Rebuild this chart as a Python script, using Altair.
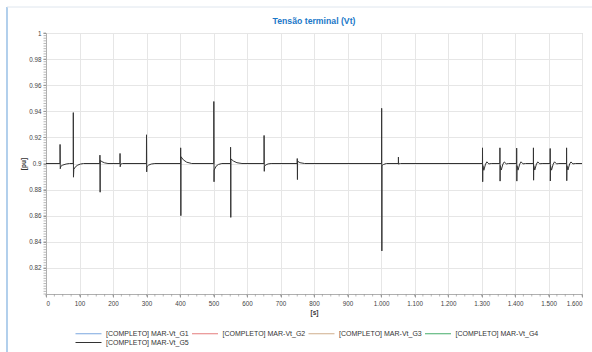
import altair as alt
import pandas as pd

# ---- data ----
series_names = ["[COMPLETO] MAR-Vt_G1", "[COMPLETO] MAR-Vt_G2", "[COMPLETO] MAR-Vt_G3",
                "[COMPLETO] MAR-Vt_G4", "[COMPLETO] MAR-Vt_G5"]
series_colors = ["#7ba7df", "#e47c7c", "#cfae8c", "#45ad6a", "#333333"]

g5_time = [0,
    41.8, 42, 42.6, 44, 50, 60, 70,
    81.3, 81.5, 82, 83, 88, 95, 103, 112,
    160.8, 161, 161.6, 162, 167, 175, 185,
    220.8, 221, 221.5, 223, 228,
    299.8, 300, 300.6, 301, 306, 314, 325,
    401.8, 402, 402.6, 403, 410, 420, 435,
    500.8, 501, 501.6, 502, 508, 515, 525,
    550.8, 551, 551.6, 552, 560, 570, 585,
    650.8, 651, 651.6, 652, 657, 663, 672,
    749.8, 750, 750.6, 751, 758, 772,
    1001.8, 1002, 1002.6, 1003, 1008, 1016,
    1051.8, 1052, 1052.5, 1054, 1058,
    1302.8, 1303, 1303.5, 1304, 1307, 1312, 1316, 1322, 1329,
    1354.8, 1355, 1355.5, 1356, 1359, 1364, 1368, 1374, 1381,
    1404.8, 1405, 1405.5, 1406, 1409, 1414, 1418, 1424, 1431,
    1454.8, 1455, 1455.5, 1456, 1459, 1464, 1468, 1474, 1481,
    1504.8, 1505, 1505.5, 1506, 1509, 1514, 1518, 1524, 1531,
    1553.8, 1554, 1554.5, 1555, 1558, 1563, 1567, 1573, 1580,
    1600]
g5_value = [0.9,
    0.9, 0.9146, 0.896, 0.8978, 0.8988, 0.8996, 0.9,
    0.9, 0.939, 0.8895, 0.8955, 0.8975, 0.8988, 0.8996, 0.9,
    0.9, 0.9064, 0.878, 0.9025, 0.9014, 0.9005, 0.9,
    0.9, 0.9077, 0.8975, 0.8995, 0.9,
    0.9, 0.922, 0.8936, 0.8975, 0.8987, 0.8996, 0.9,
    0.9, 0.912, 0.860, 0.9052, 0.9028, 0.9010, 0.9,
    0.9, 0.9475, 0.886, 0.895, 0.898, 0.8993, 0.9,
    0.9, 0.9125, 0.8587, 0.9035, 0.9018, 0.9006, 0.9,
    0.9, 0.9215, 0.894, 0.898, 0.899, 0.8997, 0.9,
    0.9, 0.9038, 0.8877, 0.9018, 0.9006, 0.9,
    0.9, 0.9423, 0.833, 0.8985, 0.8993, 0.9,
    0.9, 0.9049, 0.8995, 0.8998, 0.9,
    0.9, 0.912, 0.886, 0.8985, 0.8948, 0.8995, 0.9013, 0.8997, 0.9,
    0.9, 0.912, 0.8865, 0.8985, 0.8950, 0.8996, 0.9012, 0.8997, 0.9,
    0.9, 0.9118, 0.8865, 0.8984, 0.8949, 0.8995, 0.9013, 0.8997, 0.9,
    0.9, 0.912, 0.8872, 0.8985, 0.8950, 0.8996, 0.9012, 0.8998, 0.9,
    0.9, 0.9115, 0.8866, 0.8985, 0.8949, 0.8995, 0.9013, 0.8997, 0.9,
    0.9, 0.912, 0.8868, 0.8984, 0.8950, 0.8996, 0.9012, 0.8997, 0.9,
    0.9]

x_ticks = [0, 100, 200, 300, 400, 500, 600, 700, 800, 900, 1000, 1100, 1200, 1300, 1400, 1500, 1600]
y_ticks = [0.82, 0.84, 0.86, 0.88, 0.90, 0.92, 0.94, 0.96, 0.98, 1.0]
x_minor = [v * 25 for v in range(0, 65)]
y_minor = [round(0.8 + 0.002 * k, 3) for k in range(0, 101)]

FONT = "Liberation Sans"
W, H = 536, 261

df = pd.DataFrame({"t": g5_time, "v": g5_value, "series": series_names[4],
                   "i": list(range(len(g5_time)))})

xscale = alt.Scale(domain=[0, 1600], nice=False, zero=False)
yscale = alt.Scale(domain=[0.8, 1.0], nice=False, zero=False)
x_axis = alt.Axis(values=x_ticks, title="[s]", labelOverlap=False,
                  labelExpr="replace(format(datum.value, ','), ',', '.')")
y_axis = alt.Axis(values=y_ticks, format=".2~f", title="[pu]", labelOverlap=False)

line = alt.Chart(df).mark_line(strokeWidth=1, interpolate="linear", color="#111111").encode(
    x=alt.X("t:Q", scale=xscale, axis=x_axis),
    y=alt.Y("v:Q", scale=yscale, axis=y_axis),
    color=alt.Color("series:N",
                    scale=alt.Scale(domain=series_names, range=series_colors),
                    legend=alt.Legend(title=None, orient="none", legendX=29, legendY=296,
                                      direction="horizontal",
                                      columns=4, symbolType="M-1,0H5.5", symbolSize=64,
                                      symbolStrokeWidth=1, symbolOpacity=1,
                                      symbolFillColor="transparent",
                                      labelFont=FONT, labelFontSize=7,
                                      labelColor="#333333", labelOffset=22, columnPadding=0.5,
                                      rowPadding=1, labelLimit=200)),
    order=alt.Order("i:Q"),
)

ymin = alt.Chart(pd.DataFrame({"v": y_minor})).mark_rule(
    color="#9a9a9a", strokeWidth=0.7).encode(
    y=alt.Y("v:Q", scale=yscale, axis=y_axis),
    x=alt.value(-2.5), x2=alt.value(0),
)
xmin = alt.Chart(pd.DataFrame({"t": x_minor})).mark_rule(
    color="#9a9a9a", strokeWidth=0.7).encode(
    x=alt.X("t:Q", scale=xscale, axis=x_axis),
    y=alt.value(H), y2=alt.value(H + 2.5),
)

frame_v = alt.Chart(pd.DataFrame({"k": [0]})).mark_rule(color="#7fb0e0", strokeWidth=1.2).encode(
    x=alt.value(-39), y=alt.value(-26), y2=alt.value(330))
frame_h = alt.Chart(pd.DataFrame({"k": [0]})).mark_rule(color="#dfe6ee", strokeWidth=1).encode(
    x=alt.value(-39), x2=alt.value(560), y=alt.value(-26))

chart = alt.layer(line, ymin, xmin, frame_v, frame_h).properties(
    width=W, height=H,
    title=alt.TitleParams("Tensão terminal (Vt)", font=FONT, fontSize=8.7, fontWeight="bold",
                          color="#1b78c8", anchor="middle", offset=0, dy=19),
    autosize=alt.AutoSizeParams(type="none"),
    padding={"left": 46, "top": 33, "right": 10, "bottom": 58},
).configure_view(stroke="#c8c8c8", strokeWidth=1).configure_axis(
    grid=True, gridColor="#e6e6e6", gridWidth=1,
    domainColor="#b0b0b0", tickColor="#999999", tickSize=3,
    labelFont=FONT, labelFontSize=6.3, labelColor="#444444", labelPadding=2,
    titleFont=FONT, titleFontSize=6.5, titleFontWeight="bold", titleColor="#333333",
).configure_axisY(titlePadding=2).configure_axisX(titlePadding=3, labelPadding=3)

chart.save("out.html", embed_options={"renderer": "svg", "actions": False})
